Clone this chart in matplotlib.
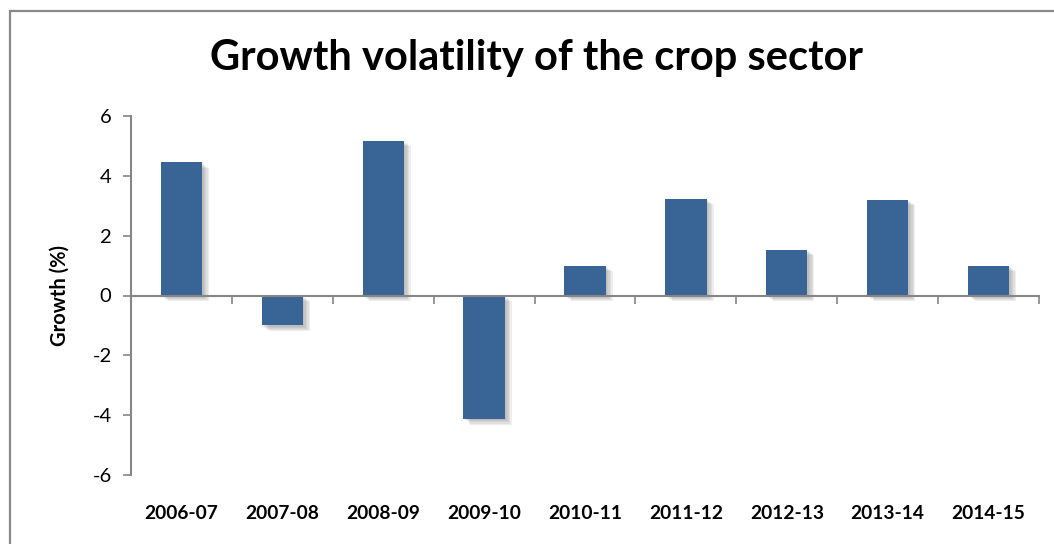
import matplotlib
matplotlib.use("Agg")
import matplotlib.pyplot as plt
import matplotlib.patches as mpatches
import matplotlib.patheffects as pe
import numpy as np

categories = ["2006-07", "2007-08", "2008-09", "2009-10", "2010-11",
              "2011-12", "2012-13", "2013-14", "2014-15"]
growth = [4.45, -1.0, 5.18, -4.13, 1.0, 3.23, 1.53, 3.2, 1.0]
yticks = [-6, -4, -2, 0, 2, 4, 6]

plt.rcParams['font.family'] = ['Lato', 'DejaVu Sans']

W, H = 1054, 544
fig = plt.figure(figsize=(W / 100, H / 100), dpi=100)
ax = fig.add_axes([131 / W, 1 - 475 / H, (1039 - 131) / W, (475 - 116) / H])

x = np.arange(len(categories))
bars = ax.bar(x, growth, width=0.41, color="#386496", zorder=3)
shadow = [pe.SimplePatchShadow(offset=(o, -o * 0.8), shadow_rgbFace="#808080", alpha=0.13)
          for o in (1, 2, 3, 4, 5)]
for b in bars:
    b.set_path_effects(shadow + [pe.Normal()])

ax.set_xlim(-0.5, len(categories) - 0.5)
ax.set_ylim(-6, 6)
ax.set_yticks(yticks)
ax.set_yticklabels([str(v) for v in yticks], fontsize=14.5)
ax.tick_params(axis='y', length=6, width=1.2, color="#868686", pad=8)

for s in ["top", "right"]:
    ax.spines[s].set_visible(False)
ax.spines["left"].set_color("#868686")
ax.spines["left"].set_linewidth(1.5)
ax.spines["bottom"].set_position(("data", 0))
ax.spines["bottom"].set_color("#868686")
ax.spines["bottom"].set_linewidth(1.5)
ax.spines["bottom"].set_zorder(4)

ax.set_xticks(np.arange(len(categories) + 1) - 0.5)
ax.set_xticklabels([])
ax.tick_params(axis='x', length=6, width=1.2, color="#868686", direction="out")

for i, c in enumerate(categories):
    ax.text(i, -0.106, c, transform=ax.get_xaxis_transform(), ha="center", va="center",
            fontsize=13.8, fontweight="bold")

ax.set_ylabel("Growth (%)", fontsize=14.5, fontweight="bold", labelpad=16)

fig.text(536 / W, 1 - 58 / H, "Growth volatility of the crop sector", ha="center", va="center",
         fontsize=30, fontweight="bold")

frame = mpatches.Rectangle((9.5 / W, -0.2), 1.2, 1 - 10.5 / H + 0.2, transform=fig.transFigure,
                           fill=False, edgecolor="#898989", linewidth=1.6)
fig.patches.append(frame)

fig.savefig("out.png", dpi=100)
